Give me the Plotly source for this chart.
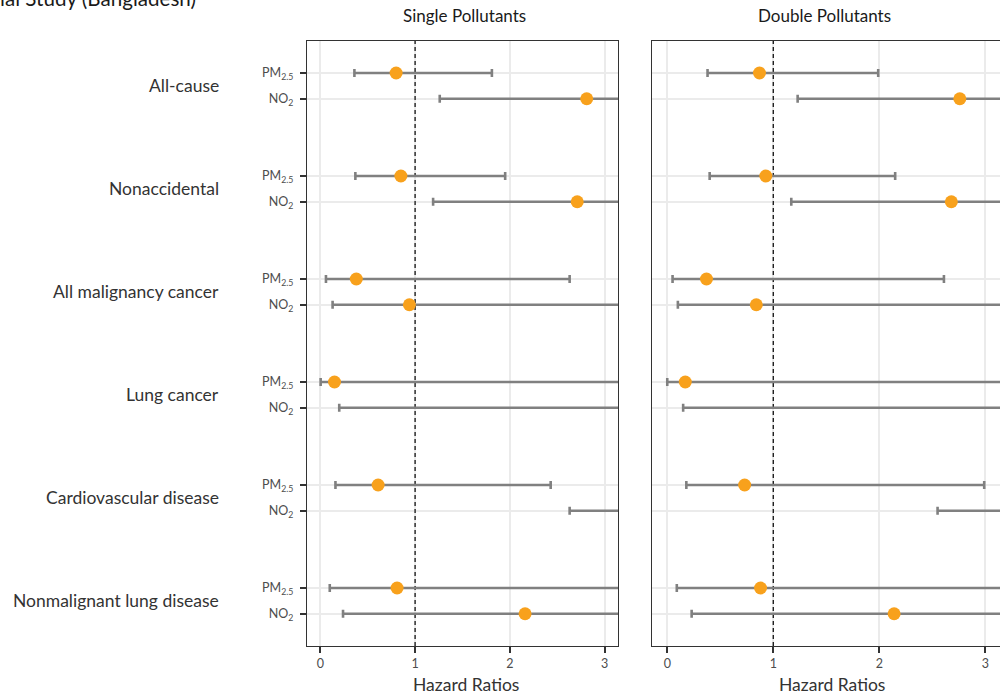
import plotly.graph_objects as go

outcomes = ["All-cause", "Nonaccidental", "All malignancy cancer", "Lung cancer",
            "Cardiovascular disease", "Nonmalignant lung disease"]
pollutants = ["PM<sub>2.5</sub>", "NO<sub>2</sub>"]

# Single pollutant models: (PM2.5, NO2) for each outcome
single_hr    = [0.80, 2.81, 0.85, 2.71, 0.38, 0.94, 0.15, 3.60, 0.61, 9.50, 0.81, 2.16]
single_lower = [0.36, 1.26, 0.37, 1.19, 0.06, 0.13, 0.004, 0.20, 0.16, 2.63, 0.10, 0.24]
single_upper = [1.81, 6.30, 1.95, 5.80, 2.63, 6.70, 4.50, 66.0, 2.43, 34.0, 7.80, 20.0]

# Double pollutant models
double_hr    = [0.87, 2.76, 0.93, 2.68, 0.37, 0.84, 0.17, 3.50, 0.73, 9.00, 0.88, 2.14]
double_lower = [0.38, 1.23, 0.40, 1.17, 0.05, 0.10, 0.00, 0.15, 0.18, 2.55, 0.09, 0.23]
double_upper = [1.99, 6.20, 2.15, 6.10, 2.61, 7.00, 4.80, 80.0, 2.99, 32.0, 8.50, 19.0]

panel_titles = ["Single Pollutants", "Double Pollutants"]
x_ticks = [0, 1, 2, 3]
null_hr = 1

W, H = 1000, 698
def px(x): return x / W
def py(y): return 1 - y / H

ypos = []
ytext = []
for i in range(len(outcomes)):
    for j, p in enumerate(pollutants):
        ypos.append(-(4 * i + j))
        ytext.append(p)

ymin, ymax = -22.252, 1.243

fig = go.Figure()
orange = "#F8A11C"
gray = "#808080"

for k, (hr, lo, up) in enumerate([(single_hr, single_lower, single_upper),
                                   (double_hr, double_lower, double_upper)]):
    xa = "x" if k == 0 else "x2"
    ya = "y" if k == 0 else "y2"
    # reference line at HR = 1
    fig.add_trace(go.Scatter(
        x=[null_hr, null_hr], y=[ymin, ymax], mode="lines",
        line=dict(color="black", width=1.2, dash="4px,3px"),
        xaxis=xa, yaxis=ya, showlegend=False, hoverinfo="skip"))
    fig.add_trace(go.Scatter(
        x=hr, y=ypos, mode="markers",
        marker=dict(color=orange, size=13, line=dict(width=0)),
        error_x=dict(type="data", symmetric=False,
                     array=[u - h for u, h in zip(up, hr)],
                     arrayminus=[h - l for h, l in zip(hr, lo)],
                     color=gray, thickness=2.6, width=4),
        xaxis=xa, yaxis=ya, showlegend=False, hoverinfo="skip", cliponaxis=True))

axis_common = dict(showgrid=True, gridcolor="#ebebeb", gridwidth=1.5, zeroline=False,
                   ticks="outside", ticklen=6, tickwidth=1.5, tickcolor="#333333",
                   tickfont=dict(size=12.5, color="#4d4d4d"),
                   linecolor="#333333", linewidth=1.2)

fig.update_layout(
    width=W, height=H, margin=dict(l=0, r=0, t=0, b=0),
    paper_bgcolor="white", plot_bgcolor="white",
    font=dict(family="Lato", color="#333333"),
    xaxis=dict(domain=[px(307), px(618)], range=[-0.140, 3.140], tickvals=x_ticks,
               showline=True, mirror=True, anchor="y", **axis_common),
    xaxis2=dict(domain=[px(652), 1.0], range=[-0.144, 3.139], tickvals=x_ticks,
                showline=True, mirror=True, anchor="y2", **axis_common),
    yaxis=dict(domain=[py(646), py(41)], range=[ymin, ymax], tickvals=ypos, ticktext=ytext,
               showline=True, mirror=True, anchor="x", ticklabelstandoff=4, **axis_common),
    yaxis2=dict(domain=[py(646), py(41)], range=[ymin, ymax], tickvals=ypos, ticktext=ytext,
                showline=True, mirror=False, anchor="x2", showticklabels=False,
                **{**axis_common, "ticks": ""}),
)

# Outcome labels
for i, o in enumerate(outcomes):
    fig.add_annotation(text=o, xref="paper", yref="y", x=px(221), y=-(4 * i + 0.5),
                       xanchor="right", yanchor="middle", showarrow=False,
                       font=dict(size=17.5, color="#333333"))

# Panel titles
for t, cx in zip(panel_titles, [464, 824]):
    fig.add_annotation(text=t, xref="paper", yref="paper", x=px(cx), y=py(16),
                       xanchor="center", yanchor="middle", showarrow=False,
                       font=dict(size=17, color="#1a1a1a"))

# X axis titles
for cx in [466, 832]:
    fig.add_annotation(text="Hazard Ratios", xref="paper", yref="paper", x=px(cx), y=py(684),
                       xanchor="center", yanchor="middle", showarrow=False,
                       font=dict(size=17.5, color="#333333"))

# Figure title (cropped at the left edge in the reference)
fig.add_annotation(text="ial Study (Bangladesh)", xref="paper", yref="paper",
                   x=px(-2), y=py(-2), xanchor="left", yanchor="middle", showarrow=False,
                   font=dict(size=20.6, color="#1a1a1a"))

fig.write_html("out.html", config={"displayModeBar": False},
               post_script="document.body.style.margin='0px';")
